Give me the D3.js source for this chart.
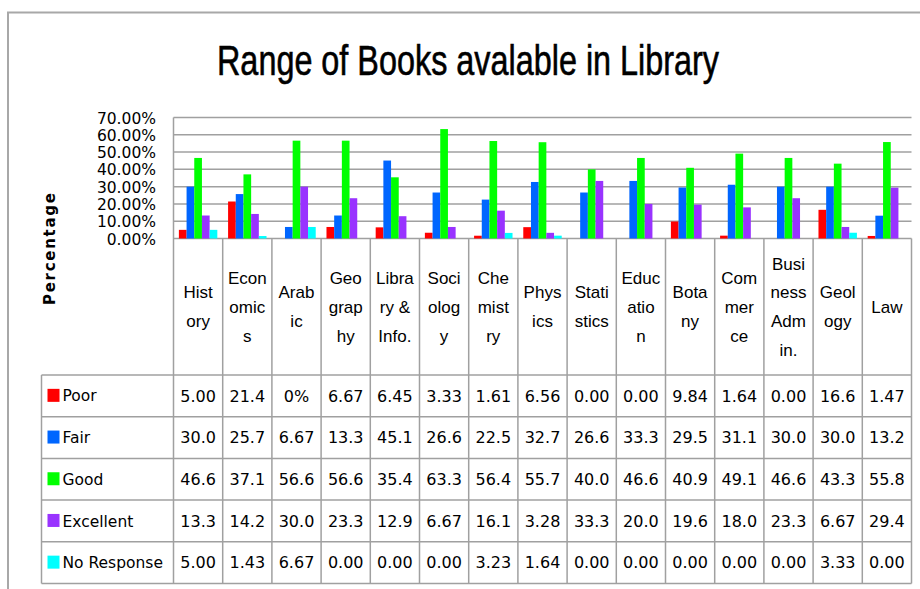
<!DOCTYPE html>
<html><head><meta charset="utf-8">
<script src="https://cdn.jsdelivr.net/npm/d3@7/dist/d3.min.js"></script>
<style>
html,body{margin:0;padding:0;background:#fff;}
svg{display:block;}
</style></head>
<body>
<svg id="chart" width="920" height="589"></svg>
<script>
// ---- data ----
const categories = ["History","Economics","Arabic","Geography","Library & Info.","Sociology","Chemistry","Physics","Statistics","Education","Botany","Commerce","Business Admin.","Geology","Law"];
const categoryLines = [["Hist","ory"],["Econ","omic","s"],["Arab","ic"],["Geo","grap","hy"],["Libra","ry &","Info."],["Soci","olog","y"],["Che","mist","ry"],["Phys","ics"],["Stati","stics"],["Educ","atio","n"],["Bota","ny"],["Com","mer","ce"],["Busi","ness","Adm","in."],["Geol","ogy"],["Law"]];
const seriesNames = ["Poor","Fair","Good","Excellent","No Response"];
const poor       = [5.00,21.4,0,6.67,6.45,3.33,1.61,6.56,0.00,0.00,9.84,1.64,0.00,16.6,1.47];
const fair       = [30.0,25.7,6.67,13.3,45.1,26.6,22.5,32.7,26.6,33.3,29.5,31.1,30.0,30.0,13.2];
const good       = [46.6,37.1,56.6,56.6,35.4,63.3,56.4,55.7,40.0,46.6,40.9,49.1,46.6,43.3,55.8];
const excellent  = [13.3,14.2,30.0,23.3,12.9,6.67,16.1,3.28,33.3,20.0,19.6,18.0,23.3,6.67,29.4];
const noResponse = [5.00,1.43,6.67,0.00,0.00,0.00,3.23,1.64,0.00,0.00,0.00,0.00,0.00,3.33,0.00];
const seriesColors = ["#ff0000","#0066ff","#00ff00","#9933ff","#00ffff"];
const yTicks = [0,10,20,30,40,50,60,70];
const labelOverrides = {"Poor|Arabic":"0%"};

const seriesValues = [poor,fair,good,excellent,noResponse];

// ---- layout ----
const svg = d3.select("#chart");
const plotL = 173.5, plotR = 911.5, plotT = 117.5, plotB = 238.5;
const tableL = 41.5, headerB = 375, tableB = 583.5;
const gridColor = "#a0a0a0";
const numFont = "'DejaVu Sans', Verdana, sans-serif";
const narrowFont = "'Liberation Sans Narrow', 'Liberation Sans', Arial, sans-serif";

// outer frame
svg.append("path").attr("d", `M8,589 L8,12.5 L920,12.5`).attr("fill","none")
  .attr("stroke","#a8a8a8").attr("stroke-width",2);

// title
svg.append("text").attr("x",468).attr("y",75).attr("text-anchor","middle")
  .attr("font-family",narrowFont).attr("font-size",42)
  .attr("textLength",502).attr("lengthAdjust","spacingAndGlyphs")
  .attr("fill","#000").attr("stroke","#000").attr("stroke-width",0.6)
  .text("Range of Books avalable in Library");

// scales
const x0 = d3.scaleBand().domain(categories).range([plotL, plotR]).padding(0);
const x1 = d3.scaleBand().domain(seriesNames).range([0, x0.bandwidth()]).paddingInner(0).paddingOuter(0.7);
const y = d3.scaleLinear().domain([0,70]).range([plotB, plotT]);

// gridlines
svg.append("g").selectAll("line").data(yTicks).join("line")
  .attr("x1",plotL).attr("x2",plotR).attr("y1",d=>y(d)).attr("y2",d=>y(d))
  .attr("stroke",gridColor).attr("stroke-width",1.5);

// y axis labels
const yAxis = d3.axisLeft(y).tickValues(yTicks).tickSize(0).tickPadding(0)
  .tickFormat(d => d3.format(".2f")(d) + "%");
const yg = svg.append("g").attr("transform",`translate(156,0)`).call(yAxis);
yg.select(".domain").remove();
yg.selectAll("text").attr("font-family",numFont).attr("font-size",15.5).attr("fill","#000")
  .attr("dy","0.36em");

// y axis title
svg.append("text").attr("transform","translate(55,249) rotate(-90)")
  .attr("text-anchor","middle").attr("font-family",numFont).attr("font-weight","bold")
  .attr("font-size",15).attr("textLength",112).attr("lengthAdjust","spacing")
  .attr("fill","#000").text("Percentage");

// bars
const barData = [];
categories.forEach((c,ci)=>{
  seriesNames.forEach((s,si)=>{
    barData.push({cat:c, series:s, value:seriesValues[si][ci], color:seriesColors[si]});
  });
});
svg.append("g").selectAll("rect").data(barData.filter(d=>d.value>0)).join("rect")
  .attr("x",d=>x0(d.cat)+x1(d.series)).attr("width",x1.bandwidth())
  .attr("y",d=>y(d.value)).attr("height",d=>plotB - y(d.value))
  .attr("fill",d=>d.color);

// left axis line
svg.append("line").attr("x1",plotL).attr("x2",plotL).attr("y1",plotT).attr("y2",tableB)
  .attr("stroke",gridColor).attr("stroke-width",1.5);

// category column lines (header + table)
const bounds = categories.map(c=>x0(c)).concat([plotR]);
svg.append("g").selectAll("line").data(bounds.slice(1)).join("line")
  .attr("x1",d=>d).attr("x2",d=>d).attr("y1",plotB).attr("y2",tableB)
  .attr("stroke",gridColor).attr("stroke-width",1.5);

// category labels
const lineH = 28.8, headerMid = (plotB + headerB)/2;
const catG = svg.append("g");
categories.forEach((c,ci)=>{
  const lines = categoryLines[ci];
  const cx = x0(c) + x0.bandwidth()/2;
  const startY = headerMid - (lines.length-1)*lineH/2;
  const t = catG.append("text").attr("text-anchor","middle")
    .attr("font-family",narrowFont).attr("font-size",17).attr("fill","#000");
  lines.forEach((ln,li)=>{
    t.append("tspan").attr("x",cx).attr("y",startY + li*lineH).attr("dy","0.36em").text(ln);
  });
});

// data table
const rowH = (tableB - headerB)/seriesNames.length;
const hLines = d3.range(seriesNames.length+1).map(i=>headerB + i*rowH);
svg.append("g").selectAll("line").data(hLines).join("line")
  .attr("x1",tableL).attr("x2",plotR).attr("y1",d=>d).attr("y2",d=>d)
  .attr("stroke",gridColor).attr("stroke-width",1.5);
svg.append("line").attr("x1",tableL).attr("x2",tableL).attr("y1",headerB).attr("y2",tableB)
  .attr("stroke",gridColor).attr("stroke-width",1.5);

const fmt = d3.format(".3r");
seriesNames.forEach((s,si)=>{
  const cy = headerB + si*rowH + rowH/2;
  svg.append("rect").attr("x",47.5).attr("y",cy-7).attr("width",12).attr("height",13)
    .attr("fill",seriesColors[si]);
  svg.append("text").attr("x",62.5).attr("y",cy).attr("dy","0.36em")
    .attr("font-family",numFont).attr("font-size",15.5).attr("fill","#000").text(s);
  categories.forEach((c,ci)=>{
    const key = s + "|" + c;
    const txt = labelOverrides[key] || fmt(seriesValues[si][ci]);
    svg.append("text").attr("x",x0(c)+x0.bandwidth()/2).attr("y",cy).attr("dy","0.36em")
      .attr("text-anchor","middle").attr("font-family",numFont).attr("font-size",16)
      .attr("fill","#000").text(txt);
  });
});
</script>
</body></html>
